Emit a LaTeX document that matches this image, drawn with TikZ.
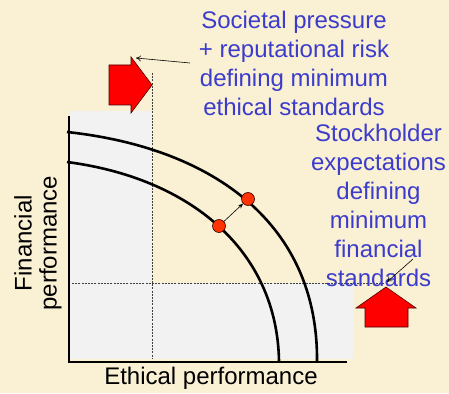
\documentclass[tikz,border=0pt]{standalone}
\usepackage{fontspec}
\setmainfont{Liberation Sans}
\usetikzlibrary{arrows.meta}
\definecolor{bgcream}{HTML}{FAF0D4}
\definecolor{zonegray}{HTML}{F2F2F2}
\definecolor{txtblue}{HTML}{3C3CCC}
\definecolor{dotred}{HTML}{FF3300}
\tikzset{
  bigtxt/.style={font=\fontsize{24}{29}\selectfont, inner sep=0pt, align=center},
  frontier/.style={line width=2.6pt},
  axisline/.style={line width=2.6pt},
  guide/.style={line width=0.6pt, dash pattern=on 2pt off 1.2pt, black!75},
  blockarrow/.style={fill=red, draw=black!70!red, line width=0.6pt, line join=miter},
  pointer/.style={line width=0.6pt, -{To[length=5pt,width=6pt]}},
  dot/.style={circle, fill=dotred, draw=black!80!red, line width=0.6pt, minimum size=13pt, inner sep=0pt},
}
\begin{document}
\begin{tikzpicture}[x=1pt,y=-1pt]
\useasboundingbox (0,0) rectangle (449,393);
\fill[bgcream] (0,0) rectangle (449,393);
% gray zones
\fill[zonegray] (70,111) rectangle (152,359);
\fill[zonegray] (70,283) rectangle (353,359);
% guides
\draw[guide] (152,73) -- (152,358);
\draw[guide] (72,283) -- (385,283);
% axes
\draw[axisline] (69,116) -- (69,362) -- (347,362);
% frontiers
\draw[frontier] (67,132) .. controls (215,148) and (318,225) .. (317,361);
\draw[frontier] (67,162) .. controls (190,178) and (277,250) .. (279,361);
% dots
\node[dot] (d1) at (219,226) {};
\node[dot] (d2) at (248,199) {};
\draw[line width=0.6pt, -{Stealth[length=5pt,width=4pt]}] (d1) -- (d2);
% block arrows
\draw[blockarrow] (109,65) -- (131,65) -- (131,57) -- (152,85) -- (131,113) -- (131,105) -- (109,105) -- cycle;
\draw[blockarrow] (365,327) -- (365,308) -- (356,308) -- (386,287) -- (416,308) -- (408,308) -- (408,327) -- cycle;
\coordinate (ltip) at (136,58);
\coordinate (utip) at (387,282);
% texts
\node[bigtxt, text=txtblue] (soc) at (294,63) {Societal pressure\\+ reputational risk\\defining minimum\\ethical standards};
\node[bigtxt, text=txtblue] (stk) at (378.5,205) {Stockholder\\expectations\\defining\\minimum\\financial\\standards};
\node[bigtxt] (xl) at (211,378) {Ethical performance};
\node[bigtxt, rotate=90, font=\fontsize{24}{25}\selectfont] (yl) at (38,243) {Financial\\performance};
% pointers
\coordinate (s1) at (190,63);
\coordinate (s2) at (413,259);
\draw[pointer] (s1) -- (ltip);
\draw[pointer] (s2) -- (utip);
\end{tikzpicture}
\end{document}
